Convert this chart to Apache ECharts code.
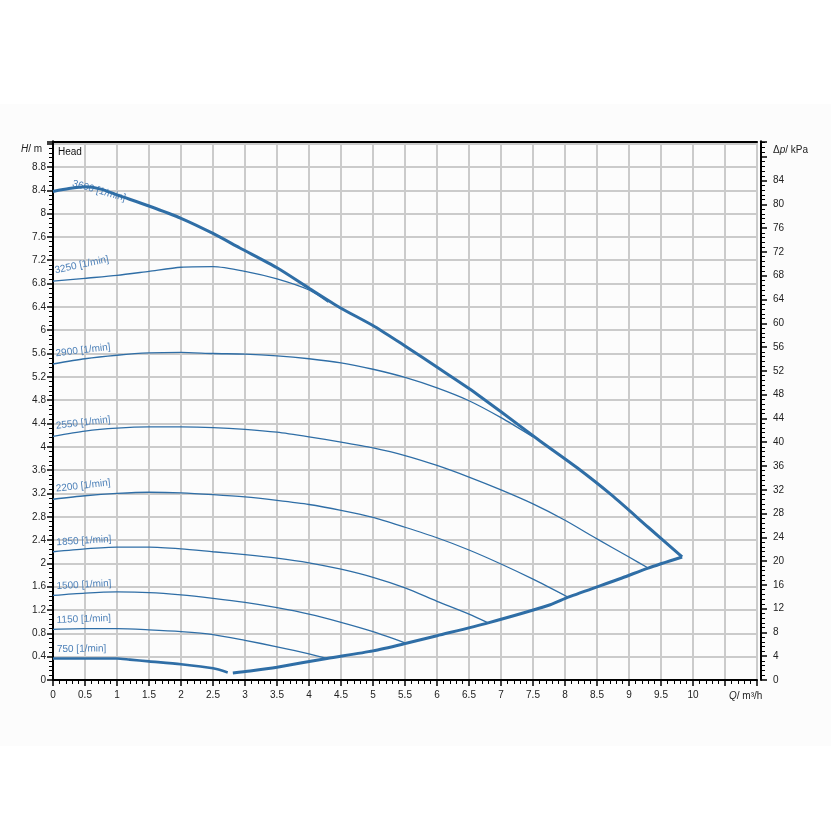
<!DOCTYPE html>
<html>
<head>
<meta charset="utf-8">
<script src="https://cdn.jsdelivr.net/npm/echarts@6/dist/echarts.min.js"></script>
<style>
html,body{margin:0;padding:0;background:#fff;}
#c{width:831px;height:831px;}
</style>
</head>
<body>
<div id="c"></div>
<script>
// ---- data (Q in m³/h, H in m) ----
const xTicksMax = 10;
const q3600 = [0,0.25,0.5,0.75,1,1.5,2,2.5,2.92,3.5,4,4.48,5.03,5.5,6.05,6.5,7,7.61,8.19,8.73,9.3,9.83];
const h3600 = [8.38,8.43,8.46,8.42,8.32,8.13,7.92,7.66,7.41,7.07,6.72,6.39,6.06,5.73,5.33,5.0,4.6,4.10,3.64,3.17,2.62,2.11];
const q3250 = [0,0.5,1,1.5,2,2.5,3,3.5,4,4.3];
const h3250 = [6.84,6.89,6.94,7.01,7.08,7.09,7.01,6.88,6.69,6.48];
const q2900 = [0,0.5,1,1.5,2,2.5,3,3.5,4,4.5,5,5.5,6,6.5,7,7.5];
const h2900 = [5.42,5.51,5.57,5.61,5.62,5.6,5.59,5.56,5.51,5.44,5.33,5.19,5.01,4.79,4.5,4.17];
const q2550 = [0,0.5,1,1.5,2,2.5,3,3.5,4,4.5,5,5.5,6,6.5,7,7.5,8,8.5,9,9.3];
const h2550 = [4.18,4.27,4.32,4.34,4.34,4.33,4.3,4.25,4.17,4.08,3.98,3.85,3.68,3.48,3.26,3.02,2.74,2.42,2.11,1.92];
const q2200 = [0,0.5,1,1.5,2,2.5,3,3.5,4,4.5,5,5.5,6,6.5,7,7.5,8.05];
const h2200 = [3.1,3.16,3.2,3.22,3.21,3.18,3.14,3.08,3.01,2.91,2.79,2.62,2.44,2.23,1.99,1.73,1.42];
const q1850 = [0,0.5,1,1.5,2,2.5,3,3.5,4,4.5,5,5.5,6,6.5,6.8];
const h1850 = [2.2,2.25,2.28,2.28,2.25,2.2,2.15,2.09,2.01,1.9,1.76,1.58,1.35,1.13,0.98];
const q1500 = [0,0.5,1,1.5,2,2.5,3,3.5,4,4.5,5,5.52];
const h1500 = [1.45,1.49,1.51,1.5,1.46,1.4,1.33,1.24,1.13,0.99,0.83,0.63];
const q1150 = [0,0.5,1,1.5,2,2.5,3,3.5,4,4.28];
const h1150 = [0.87,0.88,0.88,0.86,0.83,0.78,0.68,0.57,0.45,0.37];
const q750 = [0,0.5,1,1.2,1.5,2,2.5,2.73];
const h750 = [0.37,0.37,0.37,0.35,0.32,0.27,0.2,0.13];
const qLimit = [2.81,3.08,3.5,4.28,5,5.52,6,6.8,7.77,8.05,8.89,9.3,9.83];
const hLimit = [0.12,0.155,0.22,0.37,0.5,0.63,0.76,0.98,1.29,1.42,1.75,1.92,2.11];
const speedNames = ['3600 [1/min]','3250 [1/min]','2900 [1/min]','2550 [1/min]','2200 [1/min]','1850 [1/min]','1500 [1/min]','1150 [1/min]','750 [1/min]'];

const HMAX = 9.24;
const KPA_PER_M = 9.80665;

const LINE = '#2f6ea6';
const LABEL = '#4d80b8';
const FONT = '"Liberation Sans", Arial, sans-serif';

function zip(q, h){ return q.map((v,i)=>[v,h[i]]); }

function curve(name, q, h, width, labelCfg){
  const s = {
    name: name, type: 'line', data: zip(q,h), symbol: 'none', smooth: 0.25,
    lineStyle: {color: LINE, width: width}, z: 5, silent: true
  };
  if (labelCfg){
    s.markPoint = {
      symbol: 'circle', symbolSize: 0, silent: true, animation: false,
      data: [{coord: [q[labelCfg.i], h[labelCfg.i]], value: name,
        label: {show: true, formatter: name, position: 'inside', align: 'left', verticalAlign: 'bottom',
          offset: labelCfg.offset, rotate: labelCfg.rot, color: LABEL, fontSize: 10, fontFamily: FONT}}]
    };
  }
  return s;
}

const series = [
  curve(speedNames[0], q3600, h3600, 3, {i:1, offset:[2,-1], rot:-16}),
  curve(speedNames[1], q3250, h3250, 1.3, {i:0, offset:[4,-5], rot:12}),
  curve(speedNames[2], q2900, h2900, 1.3, {i:0, offset:[4,-5], rot:7}),
  curve(speedNames[3], q2550, h2550, 1.3, {i:0, offset:[4,-5], rot:6.5}),
  curve(speedNames[4], q2200, h2200, 1.3, {i:0, offset:[4,-5], rot:6.5}),
  curve(speedNames[5], q1850, h1850, 1.3, {i:0, offset:[4,-4], rot:3.5}),
  curve(speedNames[6], q1500, h1500, 1.3, {i:0, offset:[4,-4], rot:3}),
  curve(speedNames[7], q1150, h1150, 1.3, {i:0, offset:[4,-4], rot:2}),
  curve(speedNames[8], q750, h750, 2.6, {i:0, offset:[4,-4], rot:1}),
  curve('limit', qLimit, hLimit, 3, null)
];

const axisLabelStyle = {fontSize: 10, color: '#222', fontFamily: FONT};
const gridLine = {show: true, lineStyle: {color: '#cbcbcb', width: 2}};

const chart = echarts.init(document.getElementById('c'), null, {renderer: 'canvas'});
chart.setOption({
  animation: false,
  backgroundColor: '#ffffff',
  grid: {left: 53, right: 74, top: 141.3, bottom: 151, containLabel: false},
  graphic: [
    {type: 'rect', z: -100, silent: true, shape: {x: 0, y: 104, width: 831, height: 642}, style: {fill: '#fcfcfc'}},
    {type: 'text', left: 21, top: 144, silent: true, style: {text: '{i|H}/ m', rich: {i: {fontStyle: 'italic', fontSize: 10, fontFamily: FONT, fill: '#222'}}, fontSize: 10, fontFamily: FONT, fill: '#222'}},
    {type: 'text', left: 58, top: 147, silent: true, style: {text: 'Head', fontSize: 10, fontFamily: FONT, fill: '#111'}},
    {type: 'text', left: 773, top: 145, silent: true, style: {text: 'Δ{i|p}/ kPa', rich: {i: {fontStyle: 'italic', fontSize: 10, fontFamily: FONT, fill: '#222'}}, fontSize: 10, fontFamily: FONT, fill: '#222'}},
    {type: 'text', left: 729, top: 691, silent: true, style: {text: '{i|Q}/ m³/h', rich: {i: {fontStyle: 'italic', fontSize: 10, fontFamily: FONT, fill: '#222'}}, fontSize: 10, fontFamily: FONT, fill: '#222'}}
  ],
  xAxis: [
    {type: 'value', min: 0, max: 11, interval: 0.5, position: 'bottom',
     axisLine: {show: true, onZero: false, lineStyle: {color: '#000', width: 2}},
     axisTick: {show: true, length: 6, lineStyle: {color: '#000', width: 1.5}},
     minorTick: {show: true, splitNumber: 5, length: 4, lineStyle: {color: '#000', width: 1}},
     axisLabel: Object.assign({margin: 10, formatter: v => v > xTicksMax + 0.01 ? '' : String(v)}, axisLabelStyle),
     splitLine: gridLine},
    {type: 'value', min: 0, max: 11, position: 'top',
     axisLine: {show: true, onZero: false, lineStyle: {color: '#000', width: 2}},
     axisTick: {show: false}, axisLabel: {show: false}, splitLine: {show: false}}
  ],
  yAxis: [
    {type: 'value', min: 0, max: HMAX, interval: 0.4, position: 'left',
     axisLine: {show: true, onZero: false, lineStyle: {color: '#000', width: 2}},
     axisTick: {show: true, length: 6, lineStyle: {color: '#000', width: 1.5}},
     minorTick: {show: true, splitNumber: 5, length: 4, lineStyle: {color: '#000', width: 1}},
     axisLabel: Object.assign({margin: 7, formatter: v => v > 8.81 ? '' : String(v)}, axisLabelStyle),
     splitLine: gridLine},
    {type: 'value', min: 0, max: HMAX * KPA_PER_M, interval: 4, position: 'right', offset: 4,
     axisLine: {show: true, onZero: false, lineStyle: {color: '#000', width: 2}},
     axisTick: {show: true, length: 6, lineStyle: {color: '#000', width: 1.5}},
     minorTick: {show: true, splitNumber: 5, length: 4, lineStyle: {color: '#000', width: 1}},
     axisLabel: Object.assign({margin: 12, formatter: v => v > 84.5 ? '' : String(v)}, axisLabelStyle),
     splitLine: {show: false}}
  ],
  series: series
});
</script>
</body>
</html>
